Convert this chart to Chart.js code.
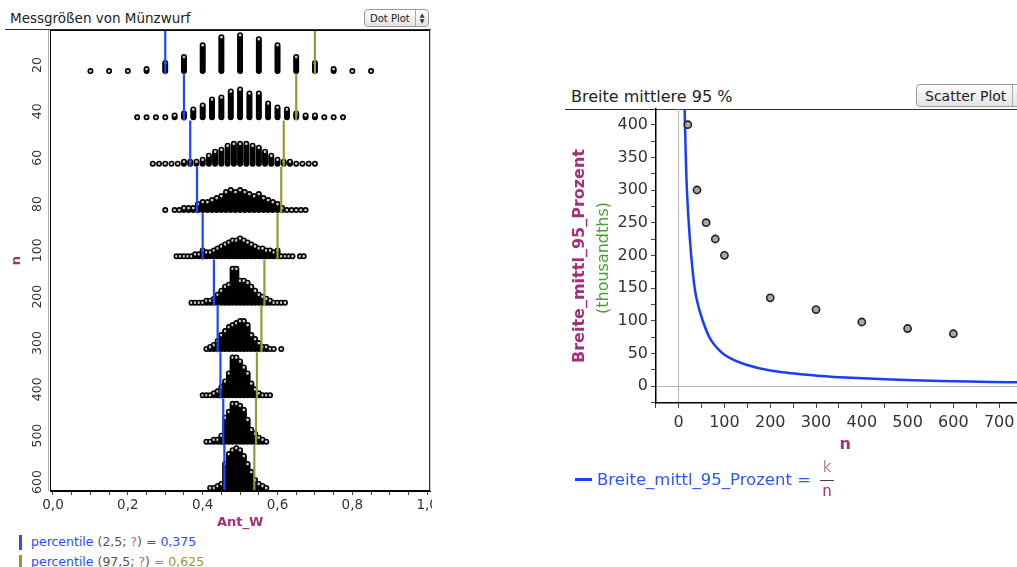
<!DOCTYPE html>
<html>
<head>
<meta charset="utf-8">
<script src="https://cdn.jsdelivr.net/npm/chart.js@4.4.1/dist/chart.umd.min.js"></script>
<style>
  body{margin:0;width:1017px;height:567px;overflow:hidden;background:#fff;position:relative;font-family:"DejaVu Sans",sans-serif;color:#222}
  .abs{position:absolute;white-space:nowrap}
  .btn{position:absolute;border:1px solid #9a9a9a;border-radius:4px;background:linear-gradient(#fdfdfd,#e4e4e4);box-sizing:border-box;display:flex;align-items:center;white-space:nowrap;overflow:hidden}
  .btn .arr{border-left:1px solid #aaa;height:100%;display:flex;flex-direction:column;justify-content:center;align-items:center;font-size:6px;line-height:6px;color:#333}
  .hline{position:absolute;height:1px;background:#333}
</style>
</head>
<body>
<!-- left panel header -->
<div class="abs" style="left:10px;top:10px;font-size:13.5px;">Messgrößen von Münzwurf</div>
<div class="btn" style="left:364px;top:9px;width:65px;height:18px;font-size:10px;">
  <span style="padding:0 4px 0 5px;flex:1">Dot Plot</span>
  <span class="arr" style="width:12px;">▲<br>▼</span>
</div>
<div class="hline" style="left:5px;top:29px;width:426px;"></div>
<div style="position:absolute;left:48px;top:30px;width:1px;height:461px;background:#aaa"></div>
<div style="position:absolute;left:0;top:0;width:432px;height:530px;overflow:hidden">
  <canvas id="dotChart" width="440" height="530"></canvas>
</div>
<!-- left legend -->
<div style="position:absolute;left:19px;top:535px;width:2.5px;height:15px;background:#2a4dff"></div>
<div class="abs" style="left:31px;top:534px;font-size:12.5px;color:#2a4dff">percentile <span style="color:#555">(2,5; </span><span style="color:#e05a5a">?</span><span style="color:#555">)</span> = 0,375</div>
<div style="position:absolute;left:19px;top:555px;width:2.5px;height:15px;background:#999933"></div>
<div class="abs" style="left:31px;top:554px;font-size:12.5px;color:#2a4dff">percentile <span style="color:#555">(97,5; </span><span style="color:#e05a5a">?</span><span style="color:#555">)</span> <span style="color:#999933">= 0,625</span></div>

<!-- right panel header -->
<div class="abs" style="left:571px;top:87px;font-size:16px;">Breite mittlere 95 %</div>
<div class="btn" style="left:916px;top:84px;width:110px;height:23px;font-size:14px;">
  <span style="padding:0 6px 0 8px;">Scatter Plot</span>
  <span class="arr" style="width:14px;">▲<br>▼</span>
</div>
<div class="hline" style="left:565px;top:109px;width:452px;"></div>
<canvas id="scatterChart" width="480" height="374" style="position:absolute;left:560px;top:80px"></canvas>
<div class="abs" style="left:602px;top:258px;font-size:16px;color:#4a9e2e;transform:translate(-50%,-50%) rotate(-90deg);">(thousandths)</div>
<!-- right legend -->
<div style="position:absolute;left:575px;top:478px;width:17px;height:3px;background:#1a3cff"></div>
<div class="abs" style="left:597px;top:470px;font-size:16.5px;color:#2f55ff">Breite_mittl_95_Prozent =</div>
<div class="abs" style="left:820px;top:458px;width:14px;text-align:center;font-size:15px;color:#b38b7d">k</div>
<div style="position:absolute;left:820px;top:480px;width:14px;height:1px;background:#444"></div>
<div class="abs" style="left:820px;top:482px;width:14px;text-align:center;font-size:15px;color:#a3307a">n</div>

<script>
// rows of the dot plot (sample size n)
const nLabels = ['20','40','60','80','100','200','300','400','500','600'];
const nValues = [20, 40, 60, 80, 100, 200, 300, 400, 500, 600];

// dot plot: first bin value, bin width and stacked dot counts per row
const binStart = [0.10, 0.225, 16/60, 0.30, 0.33, 0.37, 0.41, 0.40, 0.41, 0.42];
const binWidth = [0.05, 0.025, 1/60, 0.0125, 0.01, 0.01, 0.01, 0.01, 0.01, 0.01];
const counts20  = [1,1,1,2,5,8,14,18,19,17,14,8,5,2,1,1];
const counts40  = [1,1,1,1,2,3,5,7,10,11,14,15,13,13,8,6,5,3,2,2,1,1,1];
const counts60  = [1,1,1,1,1,2,2,2,3,5,7,8,10,11,11,11,10,9,7,5,3,2,2,1,1,1,1];
const counts80  = [1,0,1,1,2,2,2,4,5,5,6,7,8,10,11,10,11,10,9,8,9,7,6,5,4,2,1,1,1,1,1];
const counts100 = [1,1,1,1,1,2,2,4,3,3,4,5,6,7,8,9,9,10,9,8,7,6,5,5,4,4,3,4,1,1,1,1,0,1,1];
const counts200 = [1,1,1,1,2,2,3,5,7,9,10,18,18,12,12,11,9,7,5,4,3,2,1,1,1,1];
const counts300 = [1,2,3,5,8,10,12,13,14,15,15,13,8,6,4,2,2,1,1,0,1];
const counts400 = [1,1,1,2,3,5,8,12,20,20,18,15,12,7,4,2,1,1,1];
const counts500 = [1,1,2,2,4,13,16,20,20,19,17,12,7,5,3,2,1];
const counts600 = [1,1,2,3,13,18,20,21,20,17,13,9,5,3,2,1];
const dotCounts = [counts20,counts40,counts60,counts80,counts100,counts200,counts300,counts400,counts500,counts600];

// percentile (2,5) and (97,5) per row
const pLow  = [0.30, 0.35, 0.3667, 0.385, 0.40, 0.43, 0.44, 0.4475, 0.455, 0.458];
const pHigh = [0.70, 0.65, 0.6167, 0.61, 0.60, 0.565, 0.557, 0.545, 0.5425, 0.538];

// right chart: width of middle 95 % (thousandths)
const breite = [400, 300, 250, 225, 200, 135, 117, 98, 88, 80];
// function curve k/n
const curveN   = [12, 13, 15, 18, 24, 31, 38, 52, 70, 100, 146, 203, 304, 390, 512, 634, 727, 780];
const curveVal = [440, 424, 367, 300, 229, 173, 137, 101, 71, 48, 33, 23.5, 15.8, 12.2, 9, 6.8, 5.8, 5.5];

const antTickLabels = ['0,0','0,2','0,4','0,6','0,8','1,0'];
const purple = '#a3307a';
Chart.defaults.font.family = 'DejaVu Sans';
Chart.defaults.color = '#333';

// ---- left: dot plot ----
const dotStep = 0.043;
const dotPoints = [];
dotCounts.forEach((counts, row) => {
  counts.forEach((c, b) => {
    const x = binStart[row] + b * binWidth[row];
    for (let j = 0; j < c; j++) dotPoints.push({x: x, y: row - j * dotStep, top: j === c - 1});
  });
});
const lowLine = [], highLine = [];
nLabels.forEach((_, i) => {
  lowLine.push({x: pLow[i], y: i - 0.93}, {x: pLow[i], y: i + 0.07}, {x: pLow[i], y: null});
  highLine.push({x: pHigh[i], y: i - 0.93}, {x: pHigh[i], y: i + 0.07}, {x: pHigh[i], y: null});
});

const frame = {
  id: 'frame',
  afterDraw(chart) {
    const a = chart.chartArea, c = chart.ctx;
    c.save();
    c.strokeStyle = '#000';
    c.lineWidth = 1;
    c.strokeRect(a.left + 0.5, a.top + 0.5, a.width - 1, a.height - 1);
    c.restore();
  }
};

new Chart(document.getElementById('dotChart'), {
  type: 'scatter',
  data: {
    datasets: [
      {data: lowLine, showLine: true, borderColor: '#1f45ff', borderWidth: 2.2, pointRadius: 0, spanGaps: false, order: 0},
      {data: highLine, showLine: true, borderColor: '#999933', borderWidth: 2.2, pointRadius: 0, spanGaps: false, order: 0},
      {data: dotPoints, pointRadius: 2.2, pointBorderWidth: 1.6, borderColor: '#000',
       backgroundColor: c => (c.raw && c.raw.top) ? '#c8c8c8' : '#111', order: 1}
    ]
  },
  options: {
    responsive: false,
    animation: false,
    layout: {padding: {top: 30, right: 9, left: 0, bottom: 0}},
    plugins: {legend: {display: false}, tooltip: {enabled: false}},
    scales: {
      x: {
        type: 'linear', min: -0.008, max: 1.008,
        afterBuildTicks: s => { const t = []; for (let k = 0; k <= 20; k++) t.push({value: k / 20}); s.ticks = t; },
        afterFit: s => { s.height = 39; },
        ticks: {
          autoSkip: false, maxRotation: 0, padding: 2, color: '#333', font: {size: 13.5},
          callback: v => { const k = Math.round(v * 20); return k % 4 === 0 ? antTickLabels[k / 4] : ''; }
        },
        grid: {drawOnChartArea: false, tickLength: 4, tickColor: '#444'},
        border: {color: '#000'},
        title: {display: true, text: 'Ant_W', color: purple, font: {size: 13, weight: 'bold'}, padding: {top: 0, bottom: 0}}
      },
      y: {
        type: 'linear', reverse: true, min: -0.886, max: 9.065,
        afterBuildTicks: s => { s.ticks = nLabels.map((_, i) => ({value: i - 0.13})); },
        afterFit: s => { s.width = 50; },
        ticks: {
          autoSkip: false, minRotation: 90, maxRotation: 90, crossAlign: 'center', padding: -8,
          color: '#333', font: {size: 12.5},
          callback: (v, i) => nLabels[i]
        },
        grid: {display: false},
        border: {display: false},
        title: {display: true, text: 'n', color: purple, font: {size: 13, weight: 'bold'}, padding: {top: 9, bottom: 0}}
      }
    }
  },
  plugins: [frame]
});

// ---- right: scatter plot with curve ----
const scatterPoints = nValues.map((n, i) => ({x: n, y: breite[i]}));
const curvePoints = curveN.map((n, i) => ({x: n, y: curveVal[i]}));

new Chart(document.getElementById('scatterChart'), {
  type: 'scatter',
  data: {
    datasets: [
      {data: scatterPoints, pointRadius: 3.6, pointBorderWidth: 1.6, borderColor: '#222', backgroundColor: '#a8a8a8', order: 0},
      {data: curvePoints, showLine: true, borderColor: '#1a3cff', borderWidth: 2.5, pointRadius: 0, tension: 0.3, order: 1}
    ]
  },
  options: {
    responsive: false,
    animation: false,
    layout: {padding: {top: 29, right: 0, left: 0, bottom: 0}},
    plugins: {legend: {display: false}, tooltip: {enabled: false}},
    scales: {
      x: {
        type: 'linear', min: -49.5, max: 777,
        afterBuildTicks: s => { const t = []; for (let v = -50; v <= 750; v += 50) t.push({value: v}); s.ticks = t; },
        afterFit: s => { s.height = 51; },
        ticks: {
          autoSkip: false, maxRotation: 0, padding: 5, color: '#333', font: {size: 16},
          callback: v => (v >= 0 && v % 100 === 0) ? String(v) : ''
        },
        grid: {color: c => c.tick && c.tick.value === 0 ? '#b4b4b4' : 'rgba(0,0,0,0)', tickColor: '#444', tickLength: 5},
        border: {color: '#000', width: 1.5},
        title: {display: true, text: 'n', color: purple, font: {size: 16, weight: 'bold'}, padding: {top: 0, bottom: 0}}
      },
      y: {
        type: 'linear', min: -26, max: 424,
        afterBuildTicks: s => { const t = []; for (let v = -25; v <= 400; v += 25) t.push({value: v}); s.ticks = t; },
        afterFit: s => { s.width = 96; },
        ticks: {
          autoSkip: false, padding: 3, color: '#333', font: {size: 16},
          callback: v => (v >= 0 && v % 50 === 0) ? String(v) : ''
        },
        grid: {color: c => c.tick && c.tick.value === 0 ? '#b4b4b4' : 'rgba(0,0,0,0)', tickColor: '#444', tickLength: 5},
        border: {color: '#000', width: 1.5},
        title: {display: true, text: 'Breite_mittl_95_Prozent', color: purple, font: {size: 16, weight: 'bold'}, padding: {top: 10, bottom: 0}}
      }
    }
  }
});
</script>
</body>
</html>
